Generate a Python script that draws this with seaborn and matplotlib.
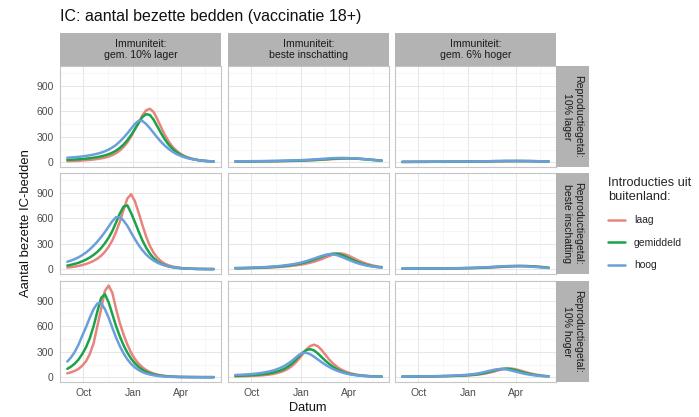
import numpy as np
import pandas as pd
import matplotlib.pyplot as plt
import matplotlib.dates as mdates
from matplotlib.lines import Line2D
import seaborn as sns

# --- data (weekly from 1 Sep 2021) ---
dates = pd.date_range("2021-09-01", periods=40, freq="7D")
immuniteit = ["Immuniteit:\ngem. 10% lager", "Immuniteit:\nbeste inschatting", "Immuniteit:\ngem. 6% hoger"]
reproductie = ["Reproductiegetal:\n10% lager", "Reproductiegetal:\nbeste inschatting", "Reproductiegetal:\n10% hoger"]
introducties = ["laag", "gemiddeld", "hoog"]

# row 1: reproductiegetal 10% lager
laag_r1_c1 = [15, 16, 18, 20, 23, 26, 30, 34, 40, 47, 56, 68, 85, 108, 140, 182, 235, 305, 385, 470,
              550, 610, 628, 590, 505, 410, 320, 245, 185, 140, 105, 80, 60, 46, 35, 27, 21, 17, 14, 12]
gem_r1_c1 = [30, 32, 34, 37, 40, 44, 49, 55, 62, 71, 82, 96, 114, 138, 170, 210, 260, 320, 390, 460,
             530, 565, 555, 500, 420, 340, 268, 208, 160, 123, 94, 72, 55, 43, 33, 26, 20, 16, 13, 11]
hoog_r1_c1 = [55, 58, 61, 65, 70, 76, 83, 92, 102, 114, 130, 150, 175, 205, 245, 290, 340, 395, 450, 488,
              485, 450, 400, 345, 290, 240, 195, 158, 126, 100, 80, 63, 50, 40, 32, 25, 20, 16, 13, 11]
laag_r1_c2 = [10, 10, 10, 11, 11, 11, 12, 12, 12, 13, 13, 14, 15, 15, 16, 17, 18, 19, 21, 22,
              24, 26, 28, 31, 33, 36, 39, 41, 43, 45, 46, 46, 45, 43, 40, 37, 33, 29, 26, 22]
gem_r1_c2 = [11, 11, 11, 12, 12, 12, 13, 13, 14, 14, 15, 15, 16, 17, 18, 19, 20, 21, 23, 25,
             27, 29, 32, 34, 37, 40, 43, 45, 47, 48, 48, 47, 45, 42, 39, 35, 31, 27, 24, 21]
hoog_r1_c2 = [13, 13, 13, 14, 14, 15, 15, 16, 16, 17, 18, 18, 19, 20, 21, 23, 24, 26, 28, 30,
              32, 35, 38, 41, 44, 47, 50, 51, 52, 52, 51, 49, 46, 43, 39, 35, 31, 28, 24, 21]
laag_r1_c3 = [6, 6, 6, 6, 6, 6, 6, 7, 7, 7, 7, 7, 7, 8, 8, 8, 8, 9, 9, 9,
              10, 10, 11, 11, 12, 13, 13, 14, 15, 15, 16, 16, 16, 16, 16, 15, 14, 13, 12, 11]
gem_r1_c3 = [6, 6, 6, 7, 7, 7, 7, 7, 8, 8, 8, 8, 9, 9, 9, 9, 10, 10, 11, 11,
             12, 12, 13, 13, 14, 15, 15, 16, 16, 16, 16, 16, 16, 15, 15, 14, 13, 12, 12, 11]
hoog_r1_c3 = [7, 7, 7, 7, 7, 8, 8, 8, 8, 8, 9, 9, 9, 9, 10, 10, 10, 11, 11, 12,
              12, 13, 14, 14, 15, 16, 16, 17, 17, 17, 17, 17, 16, 16, 15, 15, 14, 13, 12, 11]

# row 2: reproductiegetal beste inschatting
laag_r2_c1 = [22, 27, 33, 41, 51, 64, 80, 100, 126, 160, 205, 265, 340, 440, 560, 700, 830, 880, 800, 665,
              520, 385, 275, 195, 135, 95, 66, 47, 34, 25, 19, 14, 11, 9, 7, 6, 5, 5, 4, 4]
gem_r2_c1 = [45, 54, 65, 78, 95, 115, 140, 170, 205, 250, 305, 370, 450, 550, 655, 735, 750, 660, 555, 445,
             340, 255, 185, 132, 94, 67, 48, 35, 26, 19, 15, 12, 9, 8, 6, 5, 5, 4, 4, 4]
hoog_r2_c1 = [90, 104, 121, 142, 168, 198, 235, 278, 325, 378, 437, 500, 565, 612, 612, 570, 510, 430, 355, 285,
              225, 175, 135, 103, 79, 60, 46, 35, 27, 21, 16, 12, 10, 8, 6, 5, 5, 4, 4, 3]
laag_r2_c2 = [12, 12, 13, 14, 15, 16, 17, 19, 20, 22, 24, 27, 30, 33, 37, 42, 47, 53, 60, 69,
              79, 91, 105, 121, 139, 157, 173, 185, 188, 180, 164, 143, 121, 100, 82, 66, 53, 42, 34, 27]
gem_r2_c2 = [14, 14, 15, 16, 17, 19, 20, 22, 24, 26, 29, 32, 36, 40, 45, 51, 58, 66, 76, 87,
             100, 115, 131, 148, 164, 177, 185, 184, 175, 158, 138, 117, 97, 79, 64, 52, 42, 34, 28, 24]
hoog_r2_c2 = [17, 17, 18, 19, 21, 22, 24, 26, 28, 31, 34, 37, 41, 46, 52, 58, 66, 75, 86, 98,
              112, 127, 143, 158, 170, 177, 176, 168, 153, 135, 116, 98, 81, 67, 55, 45, 37, 31, 26, 22]
laag_r2_c3 = [8, 8, 8, 8, 9, 9, 9, 9, 10, 10, 10, 11, 11, 11, 12, 12, 13, 14, 14, 15,
              17, 18, 20, 22, 24, 26, 28, 31, 33, 35, 37, 38, 39, 39, 38, 36, 33, 30, 26, 21]
gem_r2_c3 = [9, 9, 9, 9, 9, 10, 10, 10, 10, 11, 11, 11, 12, 12, 13, 13, 14, 15, 16, 17,
             18, 20, 22, 24, 26, 29, 31, 34, 36, 38, 39, 40, 40, 39, 37, 34, 31, 27, 23, 19]
hoog_r2_c3 = [10, 10, 10, 10, 10, 11, 11, 11, 11, 12, 12, 13, 13, 14, 14, 15, 16, 17, 18, 19,
              21, 23, 25, 27, 30, 32, 35, 37, 39, 40, 40, 40, 38, 36, 33, 30, 27, 23, 20, 16]

# row 3: reproductiegetal 10% hoger
laag_r3_c1 = [48, 60, 77, 100, 138, 190, 275, 400, 600, 800, 1010, 1075, 990, 800, 635, 500, 385, 290, 215, 160,
              118, 86, 63, 46, 33, 24, 18, 13, 10, 8, 6, 5, 5, 4, 4, 4, 3, 3, 3, 3]
gem_r3_c1 = [100, 127, 162, 210, 275, 355, 460, 600, 770, 930, 975, 880, 740, 600, 480, 375, 290, 220, 165, 122,
             90, 66, 48, 35, 26, 19, 14, 11, 8, 7, 5, 5, 4, 4, 4, 3, 3, 3, 3, 3]
hoog_r3_c1 = [186, 235, 300, 385, 490, 590, 700, 800, 865, 870, 800, 700, 580, 465, 365, 280, 212, 158, 117, 86,
              63, 46, 34, 25, 18, 14, 10, 8, 6, 5, 4, 4, 4, 3, 3, 3, 3, 3, 3, 3]
laag_r3_c2 = [12, 13, 14, 15, 17, 19, 21, 24, 28, 33, 40, 50, 62, 78, 100, 130, 170, 220, 275, 330,
              368, 383, 365, 320, 265, 210, 165, 127, 97, 75, 58, 45, 35, 28, 22, 18, 15, 12, 11, 10]
gem_r3_c2 = [18, 19, 21, 23, 25, 28, 31, 35, 40, 47, 56, 67, 81, 100, 125, 158, 200, 248, 292, 322,
             330, 315, 280, 238, 196, 158, 125, 98, 76, 59, 46, 36, 29, 23, 19, 16, 13, 11, 10, 9]
hoog_r3_c2 = [28, 30, 32, 35, 38, 42, 47, 53, 60, 69, 80, 94, 111, 133, 160, 192, 228, 265, 288, 288,
              270, 242, 210, 178, 148, 122, 99, 80, 64, 51, 41, 33, 27, 22, 18, 15, 13, 11, 10, 9]
laag_r3_c3 = [8, 8, 8, 9, 9, 10, 10, 11, 11, 12, 13, 14, 15, 16, 17, 19, 20, 22, 25, 28,
              32, 38, 45, 54, 64, 76, 88, 98, 104, 104, 97, 86, 73, 60, 48, 38, 30, 23, 18, 14]
gem_r3_c3 = [9, 9, 9, 10, 10, 11, 11, 12, 12, 13, 14, 15, 16, 17, 19, 20, 22, 25, 28, 32,
             37, 44, 52, 63, 75, 87, 97, 102, 102, 96, 86, 73, 61, 49, 39, 31, 24, 19, 15, 13]
hoog_r3_c3 = [10, 10, 10, 11, 11, 12, 12, 13, 14, 15, 16, 17, 18, 20, 22, 24, 27, 30, 34, 39,
              46, 54, 64, 75, 85, 94, 98, 97, 91, 81, 70, 59, 48, 39, 32, 26, 21, 17, 14, 12]

panels = {
    (0, 0): (laag_r1_c1, gem_r1_c1, hoog_r1_c1),
    (0, 1): (laag_r1_c2, gem_r1_c2, hoog_r1_c2),
    (0, 2): (laag_r1_c3, gem_r1_c3, hoog_r1_c3),
    (1, 0): (laag_r2_c1, gem_r2_c1, hoog_r2_c1),
    (1, 1): (laag_r2_c2, gem_r2_c2, hoog_r2_c2),
    (1, 2): (laag_r2_c3, gem_r2_c3, hoog_r2_c3),
    (2, 0): (laag_r3_c1, gem_r3_c1, hoog_r3_c1),
    (2, 1): (laag_r3_c2, gem_r3_c2, hoog_r3_c2),
    (2, 2): (laag_r3_c3, gem_r3_c3, hoog_r3_c3),
}

frames = []
for (r, c), vals in panels.items():
    for name, v in zip(introducties, vals):
        frames.append(pd.DataFrame({"Datum": dates, "bedden": v, "rep": reproductie[r],
                                    "imm": immuniteit[c], "intro": name}))
df = pd.concat(frames, ignore_index=True)

palette = {"laag": "#E8847C", "gemiddeld": "#1BA34A", "hoog": "#6A9FDB"}

sns.set_theme(style="white")
plt.rcParams["font.family"] = ["Liberation Sans", "DejaVu Sans"]

W, H = 699, 417
fig = plt.figure(figsize=(W / 100, H / 100), dpi=100)


def fbox(x, y, w, h):
    return [x / W, 1 - (y + h) / H, w / W, h / H]


col_left = [60, 228, 395]
row_top = [66, 173, 281]
pw, ph = 161, 101

span = dates[-1] - dates[0]
xlim = (dates[0] - span * 0.05, dates[-1] + span * 0.05)
ymax = df["bedden"].max()
ylim = (-0.05 * ymax, 1.05 * ymax)

for r in range(3):
    for c in range(3):
        ax = fig.add_axes(fbox(col_left[c], row_top[r], pw, ph))
        sub = df[(df["rep"] == reproductie[r]) & (df["imm"] == immuniteit[c])]
        sns.lineplot(data=sub, x="Datum", y="bedden", hue="intro", hue_order=introducties,
                     palette=palette, linewidth=1.8, legend=False, ax=ax)
        for ln in ax.lines:
            ln.set_solid_joinstyle("round")
        ax.set_xlim(xlim)
        ax.set_ylim(ylim)
        ax.set_yticks([0, 300, 600, 900])
        ax.set_yticks([150, 450, 750, 1050], minor=True)
        ax.set_xticks([pd.Timestamp("2021-10-01"), pd.Timestamp("2022-01-01"), pd.Timestamp("2022-04-01")])
        ax.set_xticks([pd.Timestamp("2021-11-16"), pd.Timestamp("2022-02-15"), pd.Timestamp("2022-05-16")], minor=True)
        ax.xaxis.set_major_formatter(mdates.DateFormatter("%b"))
        ax.grid(which="major", color="#e2e2e2", linewidth=0.6)
        ax.grid(which="minor", color="#efefef", linewidth=0.4)
        ax.set_axisbelow(True)
        for sp in ax.spines.values():
            sp.set_color("#c6c6c6")
            sp.set_linewidth(0.8)
        ax.set_xlabel("")
        ax.set_ylabel("")
        ax.tick_params(which="both", length=0)
        ax.tick_params(which="major", labelsize=7.5, labelcolor="#4d4d4d", pad=2)
        if c == 0:
            ax.tick_params(axis="y", which="major", length=2.5, color="#b3b3b3")
        else:
            ax.set_yticklabels([])
        if r == 2:
            ax.tick_params(axis="x", which="major", length=2.5, color="#b3b3b3")
        else:
            ax.set_xticklabels([])

# facet strips
for c in range(3):
    sax = fig.add_axes(fbox(col_left[c], 33, pw, 33))
    sax.set_facecolor("#b3b3b3")
    sax.set_xticks([])
    sax.set_yticks([])
    for sp in sax.spines.values():
        sp.set_visible(False)
    sax.text(0.5, 0.5, immuniteit[c], ha="center", va="center", fontsize=7.6,
             color="#1a1a1a", linespacing=1.15, transform=sax.transAxes)

for r in range(3):
    sax = fig.add_axes(fbox(556, row_top[r], 33, ph))
    sax.set_facecolor("#b3b3b3")
    sax.set_xticks([])
    sax.set_yticks([])
    for sp in sax.spines.values():
        sp.set_visible(False)
    sax.text(0.5, 0.5, reproductie[r], ha="center", va="center", fontsize=7.6, rotation=270,
             color="#1a1a1a", linespacing=1.15, transform=sax.transAxes)

fig.text(60 / W, 1 - 16 / H, "IC: aantal bezette bedden (vaccinatie 18+)", fontsize=11.5,
         ha="left", va="center", color="#111111")
fig.text(26 / W, 1 - 223 / H, "Aantal bezette IC-bedden", rotation=90, fontsize=9.4,
         ha="center", va="center", color="#111111")
fig.text(308 / W, 1 - 408 / H, "Datum", fontsize=9.2, ha="center", va="center", color="#111111")

handles = [Line2D([], [], color=palette[n], linewidth=1.8) for n in introducties]
fig.legend(handles, introducties, title="Introducties uit\nbuitenland:", loc="upper left",
           bbox_to_anchor=(608 / W, 1 - 177 / H), frameon=False, fontsize=7.5,
           title_fontsize=9.2, handlelength=1.6, handletextpad=0.9, labelspacing=1.2,
           borderaxespad=0, borderpad=0, alignment="left")

fig.savefig("out.png", dpi=100)
